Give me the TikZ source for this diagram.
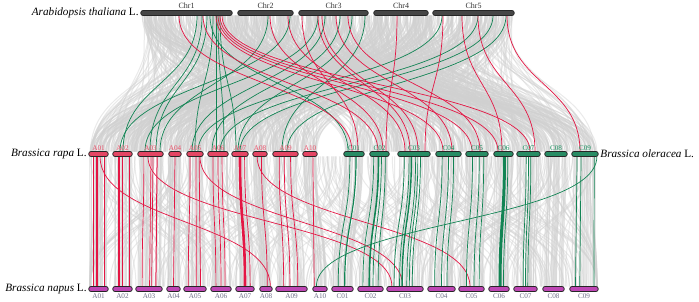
\documentclass[tikz,border=0pt]{standalone}
\usepackage{fontspec}
\setmainfont{Liberation Serif}
\usetikzlibrary{calc}
\definecolor{lnred}{RGB}{228,22,68}
\definecolor{lngreen}{RGB}{18,132,84}
\definecolor{bgray}{RGB}{208,208,208}
\definecolor{afill}{RGB}{228,70,100}
\definecolor{cfill}{RGB}{40,140,100}
\definecolor{nfill}{RGB}{190,70,180}
\definecolor{tfill}{RGB}{70,70,70}
\definecolor{alab}{RGB}{235,80,105}
\definecolor{clab}{RGB}{25,145,95}
\definecolor{nlab}{RGB}{110,110,135}
\definecolor{tlab}{RGB}{50,50,50}
\tikzset{
 barshape/.style={rounded corners=2.2pt,inner sep=0pt,minimum height=4.6pt},
 barbase/.style={draw=black!85,line width=0.8pt,rounded corners=2.2pt},
 tbar/.style={barbase,fill=tfill},
 abar/.style={barbase,fill=afill},
 cbar/.style={barbase,fill=cfill},
 nbar/.style={barbase,fill=nfill},
 tlabs/.style={font=\fontsize{8}{9}\selectfont,text=tlab,anchor=south,inner sep=1.6pt},
 alabs/.style={font=\fontsize{7.2}{8}\selectfont,text=alab,anchor=south,inner sep=1.2pt},
 clabs/.style={font=\fontsize{7.2}{8}\selectfont,text=clab,anchor=south,inner sep=1.2pt},
 nlabs/.style={font=\fontsize{7.2}{8}\selectfont,text=nlab,anchor=north,inner sep=1.6pt},
 sp/.style={font=\fontsize{11.2}{13}\selectfont,inner sep=2pt},
 gl/.style={draw=bgray,line width=1pt,opacity=0.45},
 rl/.style={draw=lnred,line width=0.7pt},
 gr/.style={draw=lngreen,line width=0.7pt},
}
% bar placeholder node: name, x1, x2, y
\newcommand\chrbar[4]{%
 \pgfmathsetmacro\cx{(#2+#3)/2}\pgfmathsetmacro\cw{#3-#2}%
 \node[barshape,minimum width=\cw pt] (#1) at (\cx,#4) {};}
% top -> middle link with absolute x values
\newcommand\tl[5]{\draw[#5] (#2,0 |- #1.south) .. controls (#2,-84) and (#4,-84) .. (#4,0 |- #3.north);}
% middle -> bottom link with fractions
\newcommand\ml[5]{%
 \path ($(#1.south west)!#2!(#1.south east)$) coordinate (pa) ($(#3.north west)!#4!(#3.north east)$) coordinate (pb);
 \draw[#5] (pa) .. controls (pa |- 0,-222) and (pb |- 0,-222) .. (pb);}
\begin{document}
\begin{tikzpicture}[x=1pt,y=1pt]
\useasboundingbox (0,0) rectangle (699,-302);
% ---- bar placeholders
\chrbar{T1}{141}{232}{-13}
\chrbar{T2}{238}{293}{-13}
\chrbar{T3}{299}{368}{-13}
\chrbar{T4}{374}{428}{-13}
\chrbar{T5}{433}{514}{-13}
\chrbar{mA01}{89}{108}{-154}
\chrbar{mA02}{113}{132}{-154}
\chrbar{mA03}{138}{163}{-154}
\chrbar{mA04}{169}{181}{-154}
\chrbar{mA05}{187}{203}{-154}
\chrbar{mA06}{208}{228}{-154}
\chrbar{mA07}{232}{248}{-154}
\chrbar{mA08}{253}{267}{-154}
\chrbar{mA09}{273}{298}{-154}
\chrbar{mA10}{303}{317}{-154}
\chrbar{mC01}{344}{364}{-154}
\chrbar{mC02}{370}{389}{-154}
\chrbar{mC03}{398}{430}{-154}
\chrbar{mC04}{436}{461}{-154}
\chrbar{mC05}{466}{488}{-154}
\chrbar{mC06}{494}{513}{-154}
\chrbar{mC07}{517}{540}{-154}
\chrbar{mC08}{545}{567}{-154}
\chrbar{mC09}{572}{598}{-154}
\chrbar{bA01}{89}{108}{-289}
\chrbar{bA02}{113}{132}{-289}
\chrbar{bA03}{136}{162}{-289}
\chrbar{bA04}{167}{180}{-289}
\chrbar{bA05}{184}{206}{-289}
\chrbar{bA06}{211}{231}{-289}
\chrbar{bA07}{236}{254}{-289}
\chrbar{bA08}{260}{272}{-289}
\chrbar{bA09}{276}{307}{-289}
\chrbar{bA10}{313}{327}{-289}
\chrbar{bC01}{332}{353}{-289}
\chrbar{bC02}{358}{383}{-289}
\chrbar{bC03}{387}{423}{-289}
\chrbar{bC04}{428}{455}{-289}
\chrbar{bC05}{459}{484}{-289}
\chrbar{bC06}{489}{509}{-289}
\chrbar{bC07}{514}{537}{-289}
\chrbar{bC08}{543}{564}{-289}
\chrbar{bC09}{570}{598}{-289}
% ---- gray background
\pgfmathsetseed{11}
\foreach \i in {1,...,560}{%
 \pgfmathsetmacro\xa{142+371*rnd}%
 \pgfmathsetmacro\xb{90+227*rnd}%
 \pgfmathsetmacro\xc{345+252*rnd}%
 \draw[gl] (\xa,-15.5) .. controls (\xa,-84) and (\xb,-84) .. (\xb,-151.7);
 \draw[gl] (\xa,-15.5) .. controls (\xa,-84) and (\xc,-84) .. (\xc,-151.7);
}
\foreach \n in {A01,A02,A03,A04,A05,A06,A07,A08,A09,A10,C01,C02,C03,C04,C05,C06,C07,C08,C09}{%
 \foreach \j in {1,...,28}{%
  \pgfmathsetmacro\f{0.04+0.92*rnd}%
  \ml{m\n}{\f}{b\n}{\f}{gl}
 }
}
\foreach \i in {1,...,320}{%
 \pgfmathsetmacro\xa{90+507*rnd}%
 \pgfmathsetmacro\xb{max(90,min(597,\xa+260*(rnd-0.5)))}%
 \draw[gl] (\xa,-156.3) .. controls (\xa,-222) and (\xb,-222) .. (\xb,-286.7);
}
% ---- colored links top -> middle
\tl{T1}{197}{mA02}{123}{gr}
\tl{T1}{202}{mA03}{150}{gr}
\tl{T1}{207}{mA03}{156}{gr}
\tl{T1}{213}{mA05}{195}{gr}
\tl{T1}{216}{mA06}{216}{gr}
\tl{T1}{218}{mA06}{224}{gr}
\tl{T1}{220}{mA07}{236}{gr}
\tl{T1}{210}{mC01}{348}{gr}
\tl{T2}{268}{mA03}{160}{gr}
\tl{T2}{290}{mA02}{120}{gr}
\tl{T3}{318}{mA03}{145}{gr}
\tl{T3}{325}{mA05}{192}{gr}
\tl{T3}{340}{mA06}{212}{gr}
\tl{T3}{352}{mA07}{238}{gr}
\tl{T3}{365}{mA09}{282}{gr}
\tl{T5}{442}{mA05}{198}{gr}
\tl{T5}{478}{mA06}{220}{gr}
\tl{T5}{493}{mA07}{240}{gr}
\tl{T5}{506}{mA09}{287}{gr}
\tl{T1}{179}{mC01}{352}{rl}
\tl{T1}{203}{mC02}{378}{rl}
\tl{T1}{216}{mC04}{443}{rl}
\tl{T1}{218}{mC05}{472}{rl}
\tl{T1}{220}{mC06}{498}{rl}
\tl{T1}{222}{mC07}{530}{rl}
\tl{T2}{270}{mC02}{383}{rl}
\tl{T2}{288}{mC03}{405}{rl}
\tl{T3}{302}{mC01}{358}{rl}
\tl{T3}{318}{mC03}{410}{rl}
\tl{T3}{322}{mC03}{418}{rl}
\tl{T3}{336}{mC04}{452}{rl}
\tl{T3}{348}{mC05}{480}{rl}
\tl{T4}{397}{mC02}{386}{rl}
\tl{T5}{443}{mC03}{425}{rl}
\tl{T5}{462}{mC06}{502}{rl}
\tl{T5}{478}{mC07}{535}{rl}
\tl{T5}{507}{mC09}{580}{rl}
% ---- colored links middle -> bottom
\ml{mA01}{.21}{bA01}{.21}{rl}
\ml{mA01}{.42}{bA01}{.42}{rl,line width=1.2pt}
\ml{mA01}{.79}{bA01}{.79}{rl}
\ml{mA02}{.32}{bA02}{.32}{rl,line width=2pt}
\ml{mA02}{.47}{bA02}{.47}{rl}
\ml{mA02}{.84}{bA02}{.84}{rl}
\ml{mA03}{.24}{bA03}{.24}{rl}
\ml{mA03}{.52}{bA03}{.52}{rl}
\ml{mA03}{.6}{bA03}{.6}{rl}
\ml{mA03}{.76}{bA03}{.76}{rl,line width=1pt}
\ml{mA04}{.5}{bA04}{.5}{rl}
\ml{mA05}{.2}{bA05}{.2}{rl}
\ml{mA05}{.56}{bA05}{.56}{rl}
\ml{mA05}{.75}{bA05}{.75}{rl}
\ml{mA06}{.25}{bA06}{.25}{rl}
\ml{mA06}{.5}{bA06}{.5}{rl}
\ml{mA06}{.7}{bA06}{.7}{rl}
\ml{mA07}{.5}{bA07}{.5}{rl,line width=2.6pt}
\ml{mA07}{.78}{bA07}{.78}{rl}
\ml{mA08}{.6}{bA08}{.6}{rl}
\ml{mA09}{.25}{bA09}{.25}{rl}
\ml{mA09}{.45}{bA09}{.45}{rl}
\ml{mA09}{.7}{bA09}{.7}{rl}
\ml{mA10}{.7}{bA10}{.1}{rl}
\ml{mA01}{.58}{bA08}{.85}{rl}
\ml{mA03}{.4}{bC03}{.14}{rl}
\ml{mA05}{.8}{bC03}{.44}{rl}
\ml{mA08}{.3}{bC05}{.44}{rl}
\ml{mC09}{.95}{bA10}{.25}{gr}
\ml{mC01}{.3}{bC01}{.3}{gr}
\ml{mC01}{.6}{bC01}{.6}{gr,line width=1.2pt}
\ml{mC02}{.2}{bC02}{.2}{gr}
\ml{mC02}{.45}{bC02}{.45}{gr,line width=1.6pt}
\ml{mC02}{.6}{bC02}{.6}{gr}
\ml{mC02}{.8}{bC02}{.8}{gr}
\ml{mC03}{.2}{bC03}{.2}{gr}
\ml{mC03}{.35}{bC03}{.35}{gr}
\ml{mC03}{.42}{bC03}{.42}{gr,line width=1.4pt}
\ml{mC03}{.55}{bC03}{.55}{gr}
\ml{mC03}{.62}{bC03}{.62}{gr}
\ml{mC03}{.7}{bC03}{.7}{gr}
\ml{mC04}{.25}{bC04}{.25}{gr}
\ml{mC04}{.5}{bC04}{.5}{gr}
\ml{mC04}{.7}{bC04}{.7}{gr}
\ml{mC05}{.3}{bC05}{.3}{gr}
\ml{mC05}{.6}{bC05}{.6}{gr}
\ml{mC05}{.8}{bC05}{.8}{gr}
\ml{mC06}{.55}{bC06}{.55}{gr,line width=3pt}
\ml{mC06}{.72}{bC06}{.72}{gr}
\ml{mC07}{.4}{bC07}{.4}{gr}
\ml{mC07}{.5}{bC07}{.5}{gr}
\ml{mC07}{.6}{bC07}{.6}{gr}
\ml{mC09}{.2}{bC09}{.2}{gr}
\ml{mC09}{.35}{bC09}{.35}{gr}
\ml{mC09}{.85}{bC09}{.85}{gr}
% ---- bars on top
\foreach \n in {T1,T2,T3,T4,T5}{\draw[tbar] (\n.south west) rectangle (\n.north east);}
\foreach \n in {A01,A02,A03,A04,A05,A06,A07,A08,A09,A10}{\draw[abar] (m\n.south west) rectangle (m\n.north east); \draw[nbar] (b\n.south west) rectangle (b\n.north east);}
\foreach \n in {C01,C02,C03,C04,C05,C06,C07,C08,C09}{\draw[cbar] (m\n.south west) rectangle (m\n.north east); \draw[nbar] (b\n.south west) rectangle (b\n.north east);}
% ---- labels
\foreach \n/\t in {T1/Chr1,T2/Chr2,T3/Chr3,T4/Chr4,T5/Chr5}{\node[tlabs] (\n t) at (\n.north) {\t};}
\foreach \n in {A01,A02,A03,A04,A05,A06,A07,A08,A09,A10}{\node[alabs] (m\n t) at (m\n.north) {\n}; \node[nlabs] (b\n t) at (b\n.south) {\n};}
\foreach \n in {C01,C02,C03,C04,C05,C06,C07,C08,C09}{\node[clabs] (m\n t) at (m\n.north) {\n}; \node[nlabs] (b\n t) at (b\n.south) {\n};}
\node[sp,anchor=east] (spAt) at (T1.west) {\textit{Arabidopsis thaliana} L.};
\node[sp,anchor=east] (spBr) at (mA01.west) {\textit{Brassica rapa} L.};
\node[sp,anchor=west] (spBo) at (mC09.east) {\textit{Brassica oleracea} L.};
\node[sp,anchor=east] (spBn) at (bA01.west) {\textit{Brassica napus} L.};
\end{tikzpicture}
\end{document}
